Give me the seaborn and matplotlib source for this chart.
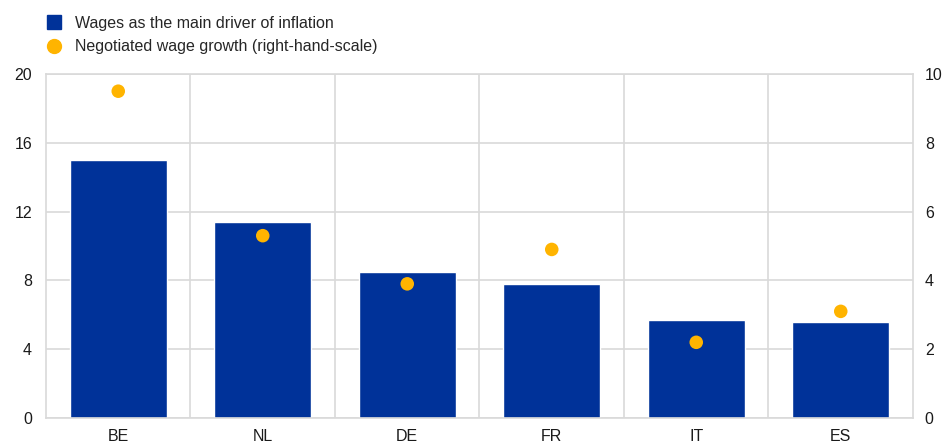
import matplotlib
matplotlib.use("Agg")
import matplotlib.pyplot as plt
import seaborn as sns
import numpy as np
import pandas as pd
from matplotlib.lines import Line2D

countries = ["BE", "NL", "DE", "FR", "IT", "ES"]
wages_driver = [15.0, 11.4, 8.5, 7.8, 5.7, 5.6]
negotiated_growth = [9.5, 5.3, 3.9, 4.9, 2.2, 3.1]
left_ticks = [0, 4, 8, 12, 16, 20]
right_ticks = [0, 2, 4, 6, 8, 10]
legend_labels = ["Wages as the main driver of inflation",
                 "Negotiated wage growth (right-hand-scale)"]

BLUE = "#003299"
YELLOW = "#FFB400"
GRID = "#d9d9d9"

sns.set_theme(style="white")
plt.rcParams["font.family"] = ["Liberation Sans", "DejaVu Sans"]

df = pd.DataFrame({"country": countries, "wages": wages_driver, "growth": negotiated_growth})

fig = plt.figure(figsize=(9.45, 4.44), dpi=100)
ax = fig.add_axes([46 / 945, 1 - 418 / 444, (913 - 46) / 945, (418 - 74) / 444])

sns.barplot(data=df, x="country", y="wages", color=BLUE, width=0.67,
            saturation=1, ax=ax, zorder=2)
ax.set_xlim(-0.5, len(countries) - 0.5)
ax.set_ylim(0, 20)
ax.set_yticks(left_ticks)
ax.set_xlabel("")
ax.set_ylabel("")

# grid
ax.set_axisbelow(True)
for t in left_ticks:
    ax.axhline(t, color=GRID, lw=1.2, zorder=0)
for b in np.arange(0.5, len(countries) - 0.5, 1):
    ax.axvline(b, color=GRID, lw=1.2, zorder=0)
for s in ax.spines.values():
    s.set_color(GRID)
    s.set_linewidth(1.2)

ax2 = ax.twinx()
sns.scatterplot(data=df, x="country", y="growth", color=YELLOW, s=95,
                edgecolor="none", ax=ax2, zorder=3)
ax2.set_ylim(0, 10)
ax2.set_yticks(right_ticks)
ax2.set_ylabel("")
for s in ax2.spines.values():
    s.set_visible(False)

for a in (ax, ax2):
    a.tick_params(axis="both", length=0, labelsize=11.5, colors="#1a1a1a")
ax.tick_params(axis="y", pad=10)
ax.tick_params(axis="x", pad=8)
ax2.tick_params(axis="y", pad=8.5)
ax.grid(False)
ax2.grid(False)

handles = [
    Line2D([], [], marker="s", linestyle="none", color=BLUE, markersize=10),
    Line2D([], [], marker="o", linestyle="none", color=YELLOW, markersize=10),
]
fig.legend(handles, legend_labels, loc="upper left", bbox_to_anchor=(0.037, 0.99),
           frameon=False, fontsize=11.5, handlelength=1.0, handletextpad=0.8,
           labelspacing=0.55, borderaxespad=0.3)

fig.savefig("out.png", dpi=100)
